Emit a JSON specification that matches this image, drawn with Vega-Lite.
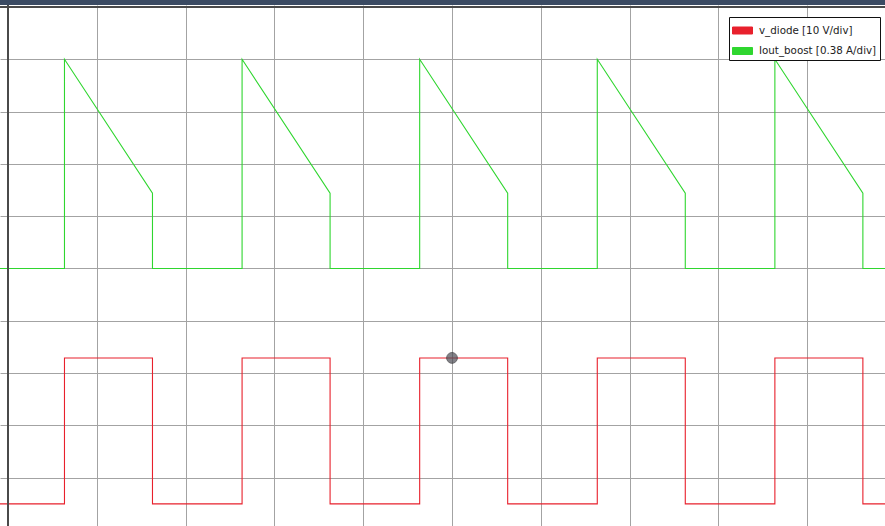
{
  "$schema": "https://vega.github.io/schema/vega-lite/v6.json",
  "width": 885,
  "height": 521,
  "autosize": {"type": "none"},
  "padding": {"left": 0, "top": 5, "right": 0, "bottom": 0},
  "background": "#3b4b63",
  "config": {
    "view": {"fill": "white", "stroke": null},
    "font": "DejaVu Sans"
  },
  "datasets": {
    "traces": [
      {"s": "v_diode [10 V/div]", "i": 0, "t": -0.2, "v": 0.5},
      {"s": "v_diode [10 V/div]", "i": 1, "t": 0.636, "v": 0.5},
      {"s": "v_diode [10 V/div]", "i": 2, "t": 0.636, "v": 3.29},
      {"s": "v_diode [10 V/div]", "i": 3, "t": 1.627, "v": 3.29},
      {"s": "v_diode [10 V/div]", "i": 4, "t": 1.627, "v": 0.5},
      {"s": "v_diode [10 V/div]", "i": 5, "t": 2.636, "v": 0.5},
      {"s": "v_diode [10 V/div]", "i": 6, "t": 2.636, "v": 3.29},
      {"s": "v_diode [10 V/div]", "i": 7, "t": 3.627, "v": 3.29},
      {"s": "v_diode [10 V/div]", "i": 8, "t": 3.627, "v": 0.5},
      {"s": "v_diode [10 V/div]", "i": 9, "t": 4.636, "v": 0.5},
      {"s": "v_diode [10 V/div]", "i": 10, "t": 4.636, "v": 3.29},
      {"s": "v_diode [10 V/div]", "i": 11, "t": 5.627, "v": 3.29},
      {"s": "v_diode [10 V/div]", "i": 12, "t": 5.627, "v": 0.5},
      {"s": "v_diode [10 V/div]", "i": 13, "t": 6.636, "v": 0.5},
      {"s": "v_diode [10 V/div]", "i": 14, "t": 6.636, "v": 3.29},
      {"s": "v_diode [10 V/div]", "i": 15, "t": 7.627, "v": 3.29},
      {"s": "v_diode [10 V/div]", "i": 16, "t": 7.627, "v": 0.5},
      {"s": "v_diode [10 V/div]", "i": 17, "t": 8.636, "v": 0.5},
      {"s": "v_diode [10 V/div]", "i": 18, "t": 8.636, "v": 3.29},
      {"s": "v_diode [10 V/div]", "i": 19, "t": 9.627, "v": 3.29},
      {"s": "v_diode [10 V/div]", "i": 20, "t": 9.627, "v": 0.5},
      {"s": "v_diode [10 V/div]", "i": 21, "t": 10.2, "v": 0.5},
      {"s": "Iout_boost [0.38 A/div]", "i": 0, "t": -0.2, "v": 5},
      {"s": "Iout_boost [0.38 A/div]", "i": 1, "t": 0.636, "v": 5},
      {"s": "Iout_boost [0.38 A/div]", "i": 2, "t": 0.636, "v": 9},
      {"s": "Iout_boost [0.38 A/div]", "i": 3, "t": 1.627, "v": 6.44},
      {"s": "Iout_boost [0.38 A/div]", "i": 4, "t": 1.627, "v": 5},
      {"s": "Iout_boost [0.38 A/div]", "i": 5, "t": 2.636, "v": 5},
      {"s": "Iout_boost [0.38 A/div]", "i": 6, "t": 2.636, "v": 9},
      {"s": "Iout_boost [0.38 A/div]", "i": 7, "t": 3.627, "v": 6.44},
      {"s": "Iout_boost [0.38 A/div]", "i": 8, "t": 3.627, "v": 5},
      {"s": "Iout_boost [0.38 A/div]", "i": 9, "t": 4.636, "v": 5},
      {"s": "Iout_boost [0.38 A/div]", "i": 10, "t": 4.636, "v": 9},
      {"s": "Iout_boost [0.38 A/div]", "i": 11, "t": 5.627, "v": 6.44},
      {"s": "Iout_boost [0.38 A/div]", "i": 12, "t": 5.627, "v": 5},
      {"s": "Iout_boost [0.38 A/div]", "i": 13, "t": 6.636, "v": 5},
      {"s": "Iout_boost [0.38 A/div]", "i": 14, "t": 6.636, "v": 9},
      {"s": "Iout_boost [0.38 A/div]", "i": 15, "t": 7.627, "v": 6.44},
      {"s": "Iout_boost [0.38 A/div]", "i": 16, "t": 7.627, "v": 5},
      {"s": "Iout_boost [0.38 A/div]", "i": 17, "t": 8.636, "v": 5},
      {"s": "Iout_boost [0.38 A/div]", "i": 18, "t": 8.636, "v": 9},
      {"s": "Iout_boost [0.38 A/div]", "i": 19, "t": 9.627, "v": 6.44},
      {"s": "Iout_boost [0.38 A/div]", "i": 20, "t": 9.627, "v": 5},
      {"s": "Iout_boost [0.38 A/div]", "i": 21, "t": 10.2, "v": 5}
    ],
    "cursor": [
      {"t": 5.0, "v": 3.29}
    ],
    "leftEdge": [
      {"t": 0}
    ],
    "topEdge": [
      {"v": 10}
    ]
  },
  "layer": [
    {
      "data": {"name": "traces"},
      "mark": {"type": "line", "strokeWidth": 1.1, "clip": true},
      "encoding": {
        "x": {
          "field": "t", "type": "quantitative",
          "scale": {"domain": [-0.0901, 9.8761], "nice": false, "zero": false},
          "axis": {
            "orient": "bottom", "title": null, "labels": false, "ticks": false,
            "domain": false,
            "grid": true, "gridColor": "#a3a3a3", "gridWidth": 1,
            "values": [1, 2, 3, 4, 5, 6, 7, 8, 9]
          }
        },
        "y": {
          "field": "v", "type": "quantitative",
          "scale": {"domain": [0.0765, 10.0382], "nice": false, "zero": false},
          "axis": {
            "orient": "left", "title": null, "labels": false, "ticks": false,
            "domain": false,
            "grid": true, "gridColor": "#a3a3a3", "gridWidth": 1,
            "values": [1, 2, 3, 4, 5, 6, 7, 8, 9]
          }
        },
        "order": {"field": "i", "type": "quantitative"},
        "color": {
          "field": "s", "type": "nominal",
          "scale": {
            "domain": ["v_diode [10 V/div]", "Iout_boost [0.38 A/div]"],
            "range": ["#e8202c", "#2fd62f"]
          },
          "legend": {
            "orient": "none", "legendX": 729, "legendY": 12,
            "title": null,
            "fillColor": "white", "strokeColor": "#111111",
            "cornerRadius": 0, "padding": 3, "rowPadding": 4.5,
            "labelFont": "DejaVu Sans", "labelFontSize": 10.3, "labelColor": "#222222",
            "labelOffset": 6,
            "symbolType": "M-1,-0.35H1V0.35H-1Z", "symbolSize": 400, "symbolOffset": 0,
            "symbolStrokeWidth": 1,
            "encode": {
              "symbols": {
                "update": {
                  "fill": {"scale": "color", "field": "value"},
                  "stroke": {"value": "#111111"},
                  "strokeWidth": {"value": 1}
                }
              }
            }
          }
        }
      }
    },
    {
      "data": {"name": "leftEdge"},
      "mark": {"type": "rule", "color": "#4a4a4a", "strokeWidth": 2},
      "encoding": {
        "x": {"field": "t", "type": "quantitative"}
      }
    },
    {
      "data": {"name": "topEdge"},
      "mark": {"type": "rule", "color": "#4a4a4a", "strokeWidth": 2},
      "encoding": {
        "y": {"field": "v", "type": "quantitative"}
      }
    },
    {
      "data": {"name": "cursor"},
      "mark": {"type": "point", "filled": true, "size": 115, "color": "#4d4d55", "stroke": "#2a2a2e", "strokeWidth": 1},
      "encoding": {
        "x": {"field": "t", "type": "quantitative"},
        "y": {"field": "v", "type": "quantitative"}
      }
    }
  ]
}
